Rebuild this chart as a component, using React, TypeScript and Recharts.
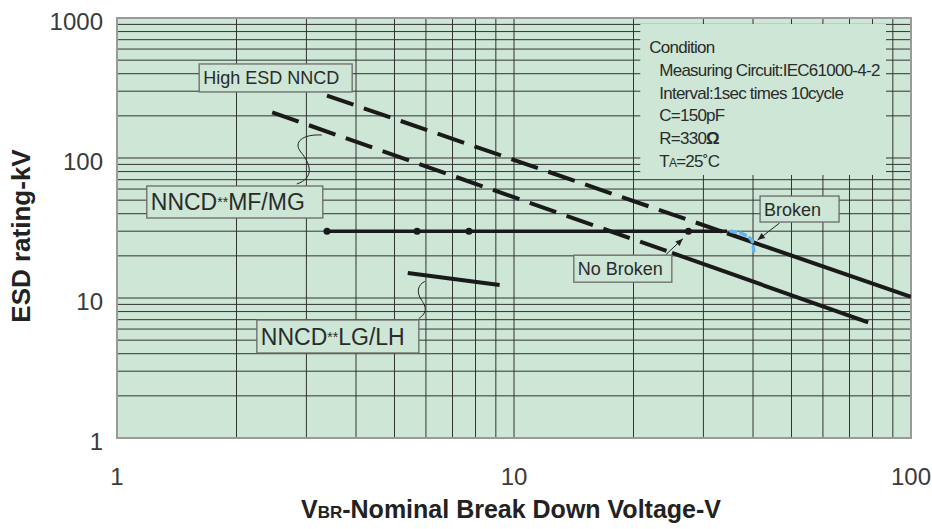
import React from 'react';
import {
  ComposedChart,
  Line,
  Scatter,
  XAxis,
  YAxis,
  CartesianGrid,
  ReferenceArea,
  ReferenceDot,
} from 'recharts';

const xTicks = [1, 2, 3, 4, 5, 6, 7, 8, 9, 10, 20, 30, 40, 50, 60, 70, 80, 90, 100];
const yTicks = [
  1, 2, 3, 4, 5, 6, 7, 8, 9, 10, 20, 30, 40, 50, 60, 70, 80, 90, 100,
  200, 300, 400, 500, 600, 700, 800, 900, 1000,
];
const xLabels = [1, 10, 100];
const yLabels = [1, 10, 100, 1000];

// High ESD NNCD
const highEsdDashed = [{ x: 3.38, y: 279 }, { x: 34.4, y: 29 }];
const highEsdSolid = [{ x: 34.4, y: 29 }, { x: 100, y: 10.2 }];
// NNCD**MF/MG
const mfMgDashed = [{ x: 2.46, y: 212 }, { x: 25, y: 21 }];
const mfMgSolid = [{ x: 25, y: 21 }, { x: 78, y: 6.7 }];
// NNCD**LG/LH
const lgLh = [{ x: 5.4, y: 15.1 }, { x: 9.2, y: 12.4 }];
// test level 30kV
const testLevel = [{ x: 3.38, y: 30 }, { x: 34.4, y: 30 }];
const testPoints = [{ x: 3.38, y: 30 }, { x: 5.7, y: 30 }, { x: 7.7, y: 30 }, { x: 27.5, y: 30 }];
const brokenTrace = [{ x: 35.2, y: 30 }, { x: 38.2, y: 28.2 }, { x: 39.8, y: 25.5 }, { x: 40.2, y: 21.7 }];

const GREEN = '#cde6d5';
const FONT = '"Liberation Sans", Arial, sans-serif';
const INK = '#2b2b2b';

const Tag = ({ cx, cy, w, h, fs, children, extra }: any) => (
  <g>
    {extra}
    <rect x={cx - w / 2} y={cy - h / 2} width={w} height={h} fill={GREEN} stroke="#6a6a6a" strokeWidth={1.3} />
    <text x={cx - w / 2 + 4} y={cy + fs * 0.36} fontSize={fs} fontFamily={FONT} fill={INK}>
      {children}
    </text>
  </g>
);

const Arrow = ({ x1, y1, x2, y2 }: any) => {
  const a = Math.atan2(y2 - y1, x2 - x1);
  const L = 8;
  const s = 0.4;
  return (
    <g>
      <line x1={x1} y1={y1} x2={x2} y2={y2} stroke="#222" strokeWidth={1} />
      <path
        d={`M${x2},${y2} L${x2 - L * Math.cos(a - s)},${y2 - L * Math.sin(a - s)} L${x2 - L * Math.cos(a + s)},${y2 - L * Math.sin(a + s)} Z`}
        fill="#222"
      />
    </g>
  );
};

const Stars = () => (
  <tspan fontSize={14} dy={-3}>**</tspan>
);

const XTick = ({ x, y, payload }: any) =>
  xLabels.includes(payload.value) ? (
    <text x={x} y={y + 47} textAnchor="middle" fontSize={24} fontFamily={FONT} fill="#3a3a3a">
      {payload.value}
    </text>
  ) : (
    <g />
  );

const YTick = ({ x, y, payload }: any) =>
  yLabels.includes(payload.value) ? (
    <text x={x - 14} y={y + 12} textAnchor="end" fontSize={24} fontFamily={FONT} fill="#3a3a3a">
      {payload.value}
    </text>
  ) : (
    <g />
  );

const ConditionBox = ({ x, y, width, height }: any) => {
  const lines = [
    'Measuring Circuit:IEC61000-4-2',
    'Interval:1sec times 10cycle',
    'C=150pF',
  ];
  const st = { fontSize: 17, fontFamily: FONT, fill: INK, letterSpacing: -0.75 } as any;
  return (
    <g>
      <rect x={x} y={y} width={width} height={height} fill={GREEN} />
      <text x={x + 9} y={y + 29} {...st}>Condition</text>
      {lines.map((t, i) => (
        <text key={t} x={x + 19} y={y + 52 + i * 22.6} {...st}>{t}</text>
      ))}
      <text x={x + 19} y={y + 119.5} {...st}>R=330<tspan fontWeight="bold">Ω</tspan></text>
      <text x={x + 19} y={y + 142.5} {...st}>T<tspan fontSize={12}>A</tspan>=25˚C</text>
    </g>
  );
};

export default function App() {
  return (
    <div style={{ position: 'absolute', left: 0, top: 0 }}>
      <ComposedChart width={932} height={529} margin={{ top: 18, right: 21, bottom: 0, left: 0 }}>
        <CartesianGrid fill={GREEN} stroke="#333" strokeWidth={1} />
        <XAxis
          dataKey="x"
          type="number"
          scale="log"
          domain={[1, 100]}
          allowDataOverflow
          ticks={xTicks}
          interval={0}
          axisLine={false}
          tickLine={false}
          tickSize={0}
          tickMargin={0}
          height={91}
          tick={<XTick />}
          label={{
            content: ({ viewBox }: any) => (
              <text
                x={viewBox.x + viewBox.width / 2 - 3}
                y={viewBox.y + 80}
                textAnchor="middle"
                fontSize={25}
                fontWeight="bold"
                fontFamily={FONT}
                fill="#222"
              >
                V<tspan fontSize={17}>BR</tspan>-Nominal Break Down Voltage-V
              </text>
            ),
          }}
        />
        <YAxis
          dataKey="y"
          type="number"
          scale="log"
          domain={[1, 1000]}
          allowDataOverflow
          ticks={yTicks}
          interval={0}
          axisLine={false}
          tickLine={false}
          tickSize={0}
          tickMargin={0}
          width={117}
          tick={<YTick />}
          label={{
            content: ({ viewBox }: any) => {
              const cx = viewBox.x + 30;
              const cy = viewBox.y + viewBox.height / 2 + 8;
              return (
                <text
                  x={cx}
                  y={cy}
                  transform={`rotate(-90 ${cx} ${cy})`}
                  textAnchor="middle"
                  fontSize={26}
                  fontWeight="bold"
                  fontFamily={FONT}
                  fill="#222"
                >
                  ESD rating-kV
                </text>
              );
            },
          }}
        />
        <ReferenceArea x1={20.8} x2={86.5} y1={75.6} y2={906} shape={<ConditionBox />} />
        <ReferenceArea x1={1} x2={100} y1={1} y2={1000} fill="none" stroke="#9a9a9a" strokeWidth={2} />

        <Line data={highEsdDashed} dataKey="y" stroke="#1a1a1a" strokeWidth={4} strokeDasharray="28 11" dot={false} isAnimationActive={false} />
        <Line data={highEsdSolid} dataKey="y" stroke="#1a1a1a" strokeWidth={4} dot={false} isAnimationActive={false} />
        <Line data={mfMgDashed} dataKey="y" stroke="#1a1a1a" strokeWidth={4} strokeDasharray="28 11" dot={false} isAnimationActive={false} />
        <Line data={mfMgSolid} dataKey="y" stroke="#1a1a1a" strokeWidth={4} dot={false} isAnimationActive={false} />
        <Line data={lgLh} dataKey="y" stroke="#1a1a1a" strokeWidth={4} dot={false} isAnimationActive={false} />
        <Line data={testLevel} dataKey="y" stroke="#1a1a1a" strokeWidth={3.5} dot={false} isAnimationActive={false} />
        <Line data={brokenTrace} dataKey="y" type="monotone" stroke="#5fb4ea" strokeWidth={3.5} strokeDasharray="5 5" strokeLinecap="round" dot={false} isAnimationActive={false} />
        <Scatter data={testPoints} fill="#1a1a1a" shape={(p: any) => <circle cx={p.cx} cy={p.cy} r={3.5} fill="#1a1a1a" />} isAnimationActive={false} />

        <ReferenceDot x={2.51} y={373} r={0} shape={(p: any) => (
          <Tag cx={p.cx} cy={p.cy} w={153} h={28} fs={18}>High ESD NNCD</Tag>
        )} />
        <ReferenceDot x={1.98} y={48.5} r={0} shape={(p: any) => (
          <Tag
            cx={p.cx}
            cy={p.cy}
            w={176}
            h={32}
            fs={23}
            extra={<path d={`M${p.cx + 62},${p.cy - 18} C${p.cx + 80},${p.cy - 24} ${p.cx + 76},${p.cy - 38} ${p.cx + 66},${p.cy - 50} C${p.cx + 58},${p.cy - 60} ${p.cx + 68},${p.cy - 68} ${p.cx + 87},${p.cy - 67}`} fill="none" stroke="#222" strokeWidth={1} />}
          >
            NNCD<Stars /><tspan dy={3}>MF/MG</tspan>
          </Tag>
        )} />
        <ReferenceDot x={3.6} y={5.31} r={0} shape={(p: any) => (
          <Tag
            cx={p.cx}
            cy={p.cy}
            w={162}
            h={33}
            fs={23}
            extra={<path d={`M${p.cx + 81},${p.cy - 18} C${p.cx + 90},${p.cy - 24} ${p.cx + 88},${p.cy - 30} ${p.cx + 84},${p.cy - 36} C${p.cx + 78},${p.cy - 44} ${p.cx + 80},${p.cy - 52} ${p.cx + 87},${p.cy - 55}`} fill="none" stroke="#222" strokeWidth={1} />}
          >
            NNCD<Stars /><tspan dy={3}>LG/LH</tspan>
          </Tag>
        )} />
        <ReferenceDot x={52.4} y={43.2} r={0} shape={(p: any) => (
          <Tag
            cx={p.cx}
            cy={p.cy}
            w={79}
            h={26}
            fs={18}
            extra={<Arrow x1={p.cx - 20} y1={p.cy + 14} x2={p.cx - 42} y2={p.cy + 31} />}
          >
            Broken
          </Tag>
        )} />
        <ReferenceDot x={18.8} y={16.2} r={0} shape={(p: any) => (
          <Tag
            cx={p.cx}
            cy={p.cy}
            w={98}
            h={27}
            fs={18}
            extra={<Arrow x1={p.cx + 43} y1={p.cy - 14} x2={p.cx + 60} y2={p.cy - 30} />}
          >
            No Broken
          </Tag>
        )} />
      </ComposedChart>
    </div>
  );
}
